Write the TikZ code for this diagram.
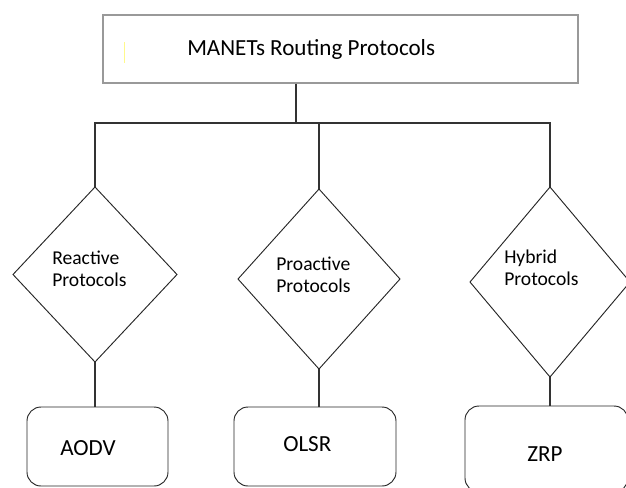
\documentclass[tikz,border=0pt]{standalone}
\usepackage{fontspec}
\setmainfont{Carlito}
\usetikzlibrary{shapes.geometric}

\begin{document}
\begin{tikzpicture}[x=0.75pt, y=-0.75pt,
	link/.style={line width=0.9pt, draw=black!80},
	kind/.style={diamond, draw=black!85, line width=0.7pt, inner sep=0pt, outer sep=0pt},
	proto/.style={draw=black!85, line width=0.7pt, rounded corners=10.5pt, inner sep=0pt, outer sep=0pt},
	biglbl/.style={anchor=base west, inner sep=0pt, font=\fontsize{17.3}{20}\selectfont},
	kindlbl/.style={anchor=west, align=left, inner sep=0pt, font=\fontsize{14.7}{16.5}\selectfont}]
	\useasboundingbox (0,0) rectangle (626,487);
	% root
	\node[draw=black!40, line width=0.9pt, minimum width=356.25pt, minimum height=51pt, inner sep=0pt] (root) at (340.5,49) {};
	\node[biglbl] (roottext) at (187,55) {MANETs Routing Protocols};
	\draw[yellow!45!white, line width=0.6pt] (124,42) -- (124,63);
	% protocol families
	\node[kind, minimum width=123pt, minimum height=131.25pt] (reactive) at (95,274.5) {};
	\node[kind, minimum width=121.5pt, minimum height=135pt] (proactive) at (319,279) {};
	\node[kind, minimum width=120pt, minimum height=142.5pt] (hybrid) at (550,282) {};
	\node[kindlbl] (reactivetext) at (52,269) {Reactive\\Protocols};
	\node[kindlbl] (proactivetext) at (276,275) {Proactive\\Protocols};
	\node[kindlbl] (hybridtext) at (504,268) {Hybrid\\Protocols};
	% examples
	\node[proto, minimum width=105.75pt, minimum height=59.25pt] (aodv) at (97.5,446.5) {};
	\node[proto, minimum width=121.5pt, minimum height=59.25pt] (olsr) at (315,446.5) {};
	\node[proto, minimum width=122.25pt, minimum height=64.5pt] (zrp) at (546.5,449) {};
	\node[biglbl] (aodvtext) at (60,455) {AODV};
	\node[biglbl] (olsrtext) at (283,451) {OLSR};
	\node[biglbl] (zrptext) at (527,461) {ZRP};
	% tree lines
	\coordinate (split) at (296,123);
	\draw[link] (split |- root.south) -- (split);
	\draw[link] (reactive.north) |- (split) -| (hybrid.north);
	\draw[link] (split -| proactive.north) -- (proactive.north);
	\draw[link] (reactive.south) -- (reactive.south |- aodv.north);
	\draw[link] (proactive.south) -- (proactive.south |- olsr.north);
	\draw[link] (hybrid.south) -- (hybrid.south |- zrp.north);
\end{tikzpicture}
\end{document}
